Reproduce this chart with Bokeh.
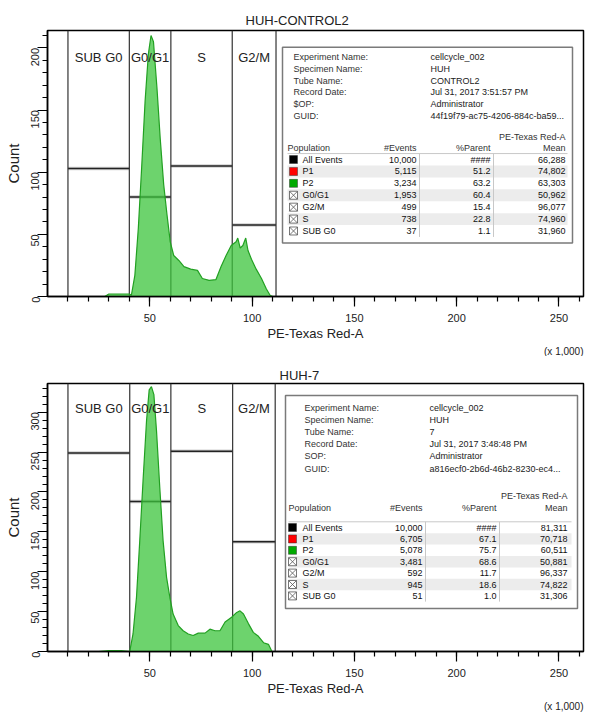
import math
from bokeh.plotting import figure
from bokeh.models import FixedTicker, Span, Range1d, Title
from bokeh.layouts import column
from bokeh.embed import file_html
from bokeh.resources import INLINE
from bokeh.core.properties import value

# ---------------- data: HUH-CONTROL2 ----------------
top_title = "HUH-CONTROL2"
top_x = [28, 30, 34, 38, 40, 41, 42.7, 44.4, 46, 47.7, 49.3, 50.6, 51.8, 53.5, 55.1, 56.8,
         58.4, 60, 61.7, 64.2, 66.7, 70, 73.3, 75.7, 79, 82.3, 84.8, 87.3, 89.8, 92.2, 93,
         94.2, 95.5, 96.9, 98, 99.7, 102, 104.6, 107, 108.8, 110]
top_count = [0, 2, 2, 2, 2, 1, 17, 55, 103, 157, 195, 210, 205, 168, 127, 90,
             66, 44, 33, 29, 24, 22, 21, 14.5, 13, 13.5, 24, 33, 41, 44, 47,
             39, 41, 47, 37, 30, 22, 14.5, 6, 1, 0]
top_gate_names = ["SUB G0", "G0/G1", "S", "G2/M"]
top_gate_left = [10, 40, 60.3, 90.3]
top_gate_right = [40, 60.3, 90.3, 111.7]
top_gate_level = [103, 80, 105, 57.5]
top_meta_keys = ["Experiment Name:", "Specimen Name:", "Tube Name:", "Record Date:", "$OP:", "GUID:"]
top_meta_vals = ["cellcycle_002", "HUH", "CONTROL2", "Jul 31, 2017 3:51:57 PM", "Administrator",
                 "44f19f79-ac75-4206-884c-ba59..."]
top_pops = ["All Events", "P1", "P2", "G0/G1", "G2/M", "S", "SUB G0"]
top_events = ["10,000", "5,115", "3,234", "1,953", "499", "738", "37"]
top_parent = ["####", "51.2", "63.2", "60.4", "15.4", "22.8", "1.1"]
top_mean = ["66,288", "74,802", "63,303", "50,962", "96,077", "74,960", "31,960"]

# ---------------- data: HUH-7 ----------------
bot_title = "HUH-7"
bot_x = [25, 30, 36, 40.2, 41.8, 43.5, 45.1, 46.7, 48.4, 49.7, 50.8, 52, 53.3, 54.9, 56.5,
         58.2, 59.8, 61.4, 63.9, 66.3, 68.8, 71.2, 73.7, 77, 79.4, 81.9, 84.3, 86.8, 90,
         92.5, 94.1, 95.8, 98.2, 100.6, 103.1, 105.6, 108, 109.7]
bot_count = [0, 1, 1, 0, 22, 68, 139, 214, 289, 328, 332, 322, 276, 205, 139,
             93, 68, 47, 32.5, 26, 22, 20, 23, 23, 28, 26, 26, 37, 43,
             49, 51, 47, 35, 24, 19, 11, 9, 0]
bot_gate_names = ["SUB G0", "G0/G1", "S", "G2/M"]
bot_gate_left = [10, 40.2, 60.3, 90.5]
bot_gate_right = [40.2, 60.3, 90.5, 111.3]
bot_gate_level = [249, 188, 251, 137.5]
bot_meta_keys = ["Experiment Name:", "Specimen Name:", "Tube Name:", "Record Date:", "SOP:", "GUID:"]
bot_meta_vals = ["cellcycle_002", "HUH", "7", "Jul 31, 2017 3:48:48 PM", "Administrator",
                 "a816ecf0-2b6d-46b2-8230-ec4..."]
bot_pops = ["All Events", "P1", "P2", "G0/G1", "G2/M", "S", "SUB G0"]
bot_events = ["10,000", "6,705", "5,078", "3,481", "592", "945", "51"]
bot_parent = ["####", "67.1", "75.7", "68.6", "11.7", "18.6", "1.0"]
bot_mean = ["81,311", "70,718", "60,511", "50,881", "96,337", "74,822", "31,306"]

x_major = [50, 100, 150, 200, 250]
x_minor = list(range(10, 261, 10))
pop_icon_colors = ["black", "#ff0000", "#00aa00", None, None, None, None]

SANS = "Liberation Sans"

FW, FH = 536, 268
X_END = 262


def make_panel(title, title_offset, title_standoff, hx, hy, g_names, g_left, g_right, g_level,
               y_end, y_major, y_minor, meta_keys, meta_vals, pops, events, parent, mean,
               min_top, min_bottom, lay):
    p = figure(width=589, height=356, x_range=Range1d(0, X_END), y_range=Range1d(0, y_end),
               output_backend="svg", toolbar_location=None,
               min_border_left=47, min_border_right=6,
               min_border_top=min_top, min_border_bottom=min_bottom)
    p.background_fill_color = "white"
    p.border_fill_color = "white"
    p.outline_line_color = "black"
    p.outline_line_width = 1.5
    p.grid.visible = False

    p.title.text = title
    p.title.align = "left"
    p.title.offset = title_offset
    p.title.standoff = title_standoff
    p.title.text_font = SANS
    p.title.text_font_size = "13px"
    p.title.text_font_style = "normal"
    p.title.text_color = "#222222"

    # axes
    xa = p.xaxis[0]
    xa.ticker = FixedTicker(ticks=x_major, minor_ticks=x_minor)
    xa.axis_label = "PE-Texas Red-A"
    xa.axis_label_text_font = SANS
    xa.axis_label_text_font_size = "13px"
    xa.axis_label_text_font_style = "normal"
    xa.axis_label_text_color = "#222222"
    xa.axis_label_standoff = 1
    xa.major_label_text_font = SANS
    xa.major_label_text_font_size = "11px"
    xa.major_label_standoff = 7
    ya = p.yaxis[0]
    ya.ticker = FixedTicker(ticks=y_major, minor_ticks=y_minor)
    ya.axis_label = "Count"
    ya.axis_label_text_font = SANS
    ya.axis_label_text_font_size = "15px"
    ya.axis_label_text_font_style = "normal"
    ya.axis_label_text_color = "#222222"
    ya.axis_label_standoff = 3
    ya.major_label_text_font = SANS
    ya.major_label_text_font_size = "11px"
    ya.major_label_orientation = math.pi / 2
    ya.major_label_standoff = 2
    for ax in (xa, ya):
        ax.axis_line_color = "black"
        ax.axis_line_width = 1.5
        ax.major_tick_line_color = "black"
        ax.minor_tick_line_color = "black"
        ax.major_tick_line_width = 1.2
        ax.minor_tick_line_width = 1.2
        ax.major_tick_in = 0
        ax.minor_tick_in = 0
        ax.major_tick_out = 10
        ax.minor_tick_out = 5
        ax.major_label_text_color = "#222222"

    # scale note under the x axis, right aligned to the frame
    p.add_layout(Title(text="(x 1,000)", align="right", text_font=SANS, text_font_size="10px",
                       text_font_style="normal", text_color="#222222", standoff=0), "below")

    # gates: vertical borders
    for xl in sorted(set(g_left + g_right)):
        p.add_layout(Span(location=xl, dimension="height", line_color="#333333",
                          line_width=1.2, level="underlay"))
    # gate level lines (with grey shadow)
    p.segment(x0=g_left, x1=g_right, y0=g_level, y1=g_level, line_color="#c4c4c4",
              line_width=3.5, line_alpha=0.8, level="underlay")
    p.segment(x0=g_left, x1=g_right, y0=g_level, y1=g_level, line_color="#222222",
              line_width=1.5, level="underlay")

    # histogram
    p.varea(x=hx, y1=[0] * len(hx), y2=hy, fill_color="#3cc43c", fill_alpha=0.75)
    p.line(x=hx, y=hy, line_color="#22a022", line_width=1.2)

    # gate labels
    gx = [(a + b) / 2 for a, b in zip(g_left, g_right)]
    p.text(x=gx, y=[y_end * lay["gate_label_frac"]] * len(gx), text=g_names,
           text_font=value(SANS), text_font_size="13px", text_align="center",
           text_baseline="middle", text_color="#222222")

    # pixel -> data helpers for the info panel
    FL, FT = lay["frame_left"], lay["frame_top"]

    def dx(X):
        return (X - FL) / FW * X_END

    def dy(Y):
        return (FT + FH - Y) / FH * y_end

    # info box
    b = lay["box"]
    p.quad(left=[dx(b[0])], right=[dx(b[1])], top=[dy(b[2])], bottom=[dy(b[3])],
           fill_color="white", line_color="#7a7a7a", line_width=1.5)

    n = len(meta_keys)
    my = [dy(lay["meta_y0"] + i * lay["meta_step"]) for i in range(n)]
    p.text(x=[dx(lay["meta_kx"])] * n, y=my, text=meta_keys, text_font=value(SANS),
           text_font_size="9px", text_align="left", text_baseline="middle", text_color="#333333")
    p.text(x=[dx(lay["meta_vx"])] * n, y=my, text=meta_vals, text_font=value(SANS),
           text_font_size="9px", text_align="left", text_baseline="middle", text_color="#222222")

    # table
    rl, rr = lay["row_left"], lay["row_right"]
    rs = lay["row_step"]
    ry = [lay["row_y0"] + i * rs for i in range(len(pops))]
    shade = [i for i in range(len(pops)) if i % 2 == 1]
    p.quad(left=[dx(rl)] * len(shade), right=[dx(rr)] * len(shade),
           top=[dy(ry[i] - rs / 2) for i in shade], bottom=[dy(ry[i] + rs / 2) for i in shade],
           fill_color="#ececec", line_color=None)
    # header
    hy_ = dy(lay["header_y"])
    p.text(x=[dx(lay["mean_x"])], y=[dy(lay["param_y"])], text=["PE-Texas Red-A"],
           text_font=value(SANS), text_font_size="9px", text_align="right",
           text_baseline="middle", text_color="#333333")
    p.text(x=[dx(rl)], y=[hy_], text=["Population"], text_font=value(SANS),
           text_font_size="9px", text_align="left", text_baseline="middle", text_color="#333333")
    p.text(x=[dx(lay["ev_x"]), dx(lay["par_x"]), dx(lay["mean_x"])], y=[hy_] * 3,
           text=["#Events", "%Parent", "Mean"], text_font=value(SANS), text_font_size="9px",
           text_align="right", text_baseline="middle", text_color="#333333")
    p.segment(x0=[dx(rl)], x1=[dx(rr)], y0=[dy(ry[0] - rs / 2)], y1=[dy(ry[0] - rs / 2)],
              line_color="#c8c8c8", line_width=1)
    for sx in (lay["ev_x"] + 3, lay["par_x"] + 3):
        p.segment(x0=[dx(sx)], x1=[dx(sx)], y0=[dy(ry[0] - rs / 2)], y1=[dy(ry[-1] + rs / 2)],
                  line_color="#c8c8c8", line_width=1)
    # icons
    col_idx = [i for i, c in enumerate(pop_icon_colors) if c]
    gate_idx = [i for i, c in enumerate(pop_icon_colors) if not c]
    p.scatter(x=[dx(lay["icon_x"])] * len(col_idx), y=[dy(ry[i]) for i in col_idx],
              marker="square", size=8, fill_color=[pop_icon_colors[i] for i in col_idx],
              line_color="#333333", line_width=0.5)
    p.scatter(x=[dx(lay["icon_x"])] * len(gate_idx), y=[dy(ry[i]) for i in gate_idx],
              marker="square_x", size=8, fill_color="white", line_color="#555555",
              line_width=0.8)
    ryd = [dy(v) for v in ry]
    p.text(x=[dx(lay["name_x"])] * len(pops), y=ryd, text=pops, text_font=value(SANS),
           text_font_size="9px", text_align="left", text_baseline="middle", text_color="#111111")
    p.text(x=[dx(lay["ev_x"])] * len(pops), y=ryd, text=events, text_font=value(SANS),
           text_font_size="9px", text_align="right", text_baseline="middle", text_color="#111111")
    p.text(x=[dx(lay["par_x"])] * len(pops), y=ryd, text=parent, text_font=value(SANS),
           text_font_size="9px", text_align="right", text_baseline="middle", text_color="#111111")
    p.text(x=[dx(lay["mean_x"])] * len(pops), y=ryd, text=mean, text_font=value(SANS),
           text_font_size="9px", text_align="right", text_baseline="middle", text_color="#111111")
    return p


top_lay = dict(frame_left=47, frame_top=30, gate_label_frac=0.9,
               box=(282, 572, 47, 244), meta_y0=57, meta_step=11.8, meta_kx=293, meta_vx=430,
               param_y=137, header_y=148, row_left=287, row_right=567, row_y0=160, row_step=12,
               icon_x=293, name_x=302, ev_x=416, par_x=490, mean_x=565)
bot_lay = dict(frame_left=48, frame_top=27, gate_label_frac=0.905,
               box=(286, 578, 39, 252), meta_y0=51, meta_step=12.2, meta_kx=305, meta_vx=430,
               param_y=139, header_y=151, row_left=289, row_right=572, row_y0=171, row_step=11.4,
               icon_x=293, name_x=303, ev_x=423, par_x=497, mean_x=568)

p1 = make_panel(top_title, 198, 6, top_x, top_count, top_gate_names, top_gate_left,
                top_gate_right, top_gate_level, 214, [0, 50, 100, 150, 200],
                list(range(10, 211, 10)), top_meta_keys, top_meta_vals, top_pops, top_events,
                top_parent, top_mean, 30, 58, top_lay)
p2 = make_panel(bot_title, 232, 2, bot_x, bot_count, bot_gate_names, bot_gate_left,
                bot_gate_right, bot_gate_level, 336, [0, 50, 100, 150, 200, 250, 300],
                list(range(10, 331, 10)), bot_meta_keys, bot_meta_vals, bot_pops, bot_events,
                bot_parent, bot_mean, 27, 61, bot_lay)

layout = column(p1, p2, spacing=0)
open("out.html", "w").write(file_html(layout, INLINE))
